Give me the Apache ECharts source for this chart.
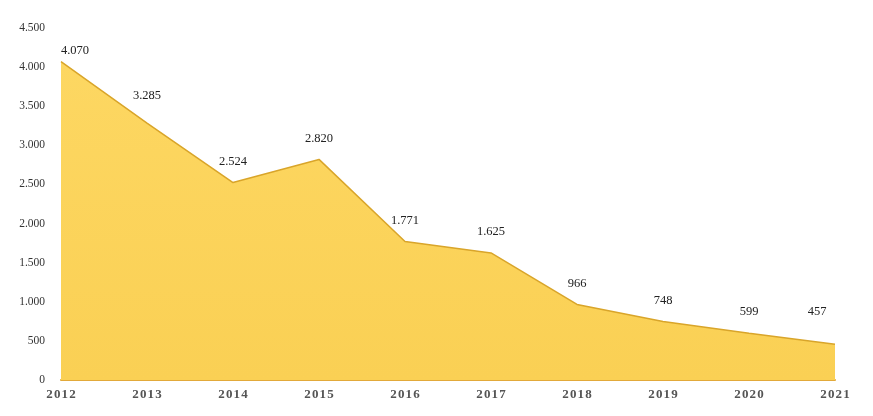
<!DOCTYPE html>
<html><head><meta charset="utf-8">
<script src="https://cdn.jsdelivr.net/npm/echarts@6/dist/echarts.min.js"></script>
<style>html,body{margin:0;padding:0;background:#fff}#c{width:873px;height:416px}</style>
</head><body><div id="c"></div>
<script>
const years = ['2012','2013','2014','2015','2016','2017','2018','2019','2020','2021'];
const values = [4070, 3285, 2524, 2820, 1771, 1625, 966, 748, 599, 457];
const yTicks = [0, 500, 1000, 1500, 2000, 2500, 3000, 3500, 4000, 4500];

function fmt(v){ return String(v).replace(/\B(?=(\d{3})+(?!\d))/g, '.'); }

const chart = echarts.init(document.getElementById('c'), null, {renderer:'canvas'});
const labelOffsets = {0:[14,10], 1:[0,-6], 9:[-18,-12]};
const data = values.map((v,i)=>{
  const item = {value:v};
  if(labelOffsets[i]) item.label = {offset:labelOffsets[i]};
  return item;
});
chart.setOption({
  animation:false,
  grid:{left:61, right:38, top:28, bottom:36},
  xAxis:{
    type:'category', data:years, boundaryGap:false,
    axisLine:{show:true, lineStyle:{color:'#E2A93A', width:2}},
    axisTick:{show:false},
    axisLabel:{color:'#555', fontFamily:'Liberation Serif', fontSize:13, fontWeight:'bold', margin:8,
      formatter:v=>v.split('').join('\u200A')}
  },
  yAxis:{
    type:'value', min:yTicks[0], max:yTicks[yTicks.length-1], interval:500,
    axisLine:{show:false}, axisTick:{show:false}, splitLine:{show:false},
    axisLabel:{color:'#333', fontFamily:'Liberation Serif', fontSize:11.5, margin:16, formatter:fmt}
  },
  series:[{
    type:'line', data:data, symbol:'circle', symbolSize:1, showSymbol:true,
    itemStyle:{color:'rgba(0,0,0,0)', borderWidth:0},
    lineStyle:{color:'#D9A52A', width:1.5},
    areaStyle:{opacity:1, color:new echarts.graphic.LinearGradient(0,0,0,1,[
      {offset:0,color:'#FDD762'},{offset:1,color:'#FAD054'}])},
    label:{show:true, position:'top', distance:14, color:'#222', opacity:1,
      fontFamily:'Liberation Serif', fontSize:12.5, formatter:p=>fmt(p.value)}
  }]
});
</script></body></html>
